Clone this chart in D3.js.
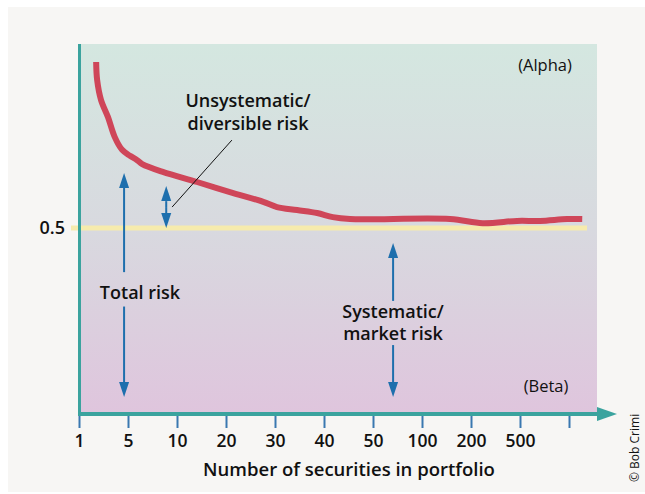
<!DOCTYPE html>
<html><head><meta charset="utf-8">
<script src="https://cdn.jsdelivr.net/npm/d3@7"></script>
<style>
html,body{margin:0;padding:0;background:#fff;}
svg{display:block;}
text{font-family:"Open Sans",sans-serif;fill:#111;}
</style></head>
<body>
<svg id="c" width="645" height="494"></svg>
<script>
// ---- data ----
const tickLabels = ["1","5","10","20","30","40","50","100","200","500",""];
// position along the x axis, in tick-index units (0 = "1", 1 = "5", ...)
const curveX = [0.35,0.37,0.45,0.59,0.73,0.88,1.04,1.18,1.29,1.71,2.41,3.08,3.76,4.04,4.45,4.86,5.18,5.53,7.57,8.24,8.94,9.41,9.96,10.27];
// total risk (relative)
const curveY = [0.944,0.896,0.842,0.797,0.743,0.709,0.693,0.682,0.671,0.650,0.623,0.596,0.570,0.556,0.548,0.540,0.529,0.524,0.524,0.513,0.519,0.519,0.524,0.524];
const systematicLevel = 0.5;
const yTicks = [0.5];

const svg = d3.select("#c");
const W = 645, H = 494;
const plot = {left:78, right:597, top:44, bottom:414};

const x = d3.scaleLinear().domain([0,10]).range([79,569]);
const y = d3.scaleLinear().domain([0,1]).range([415,41]);

// outer panel
svg.append("rect").attr("x",8).attr("y",7).attr("width",W-8).attr("height",485).attr("fill","#f7f6f4");

// gradient background
const defs = svg.append("defs");
const g = defs.append("linearGradient").attr("id","bg").attr("x1",0).attr("y1",0).attr("x2",0).attr("y2",1);
g.append("stop").attr("offset","0%").attr("stop-color","#d4e7e0");
g.append("stop").attr("offset","50%").attr("stop-color","#d8d9df");
g.append("stop").attr("offset","100%").attr("stop-color","#dfc5dd");
svg.append("rect").attr("x",plot.left).attr("y",plot.top)
  .attr("width",plot.right-plot.left).attr("height",plot.bottom-plot.top).attr("fill","url(#bg)");

// systematic level line
svg.append("line").attr("x1",71).attr("x2",587)
  .attr("y1",y(systematicLevel)).attr("y2",y(systematicLevel))
  .attr("stroke","#f6ebad").attr("stroke-width",5);

// y tick label
svg.selectAll("text.yt").data(yTicks).join("text").attr("class","yt")
  .attr("x",65).attr("y",d=>y(d)).attr("dy","0.36em").attr("text-anchor","end")
  .attr("font-size",18).attr("font-weight",600).text(d=>d);

// curve
const pts = curveX.map((d,i)=>[d,curveY[i]]);
svg.append("path").datum(pts)
  .attr("d", d3.line().x(d=>x(d[0])).y(d=>y(d[1])).curve(d3.curveCatmullRom.alpha(0.5)))
  .attr("fill","none").attr("stroke","#cf4659").attr("stroke-width",6);

// x axis
const teal = "#3ba39e";
const blue = "#1e6fad";
const axis = d3.axisBottom(x).tickValues(d3.range(tickLabels.length))
  .tickFormat(i=>tickLabels[i]).tickSize(13).tickPadding(7);
const ax = svg.append("g").attr("transform","translate(0,415)").call(axis);
ax.select(".domain").remove();
ax.selectAll(".tick line").attr("stroke","#3a78b0").attr("stroke-width",2);
ax.selectAll(".tick text").attr("font-family","Open Sans").attr("font-size",17.5)
  .attr("font-weight",600).attr("fill","#111");

svg.append("line").attr("x1",78).attr("x2",600).attr("y1",414).attr("y2",414)
  .attr("stroke",teal).attr("stroke-width",4);
svg.append("path").attr("d","M597,407 L617,414 L597,421 Z").attr("fill",teal);
svg.append("line").attr("x1",79.5).attr("x2",79.5).attr("y1",plot.top).attr("y2",416)
  .attr("stroke",teal).attr("stroke-width",3);

// axis title
svg.append("text").attr("x",349).attr("y",469).attr("dy","0.36em").attr("text-anchor","middle")
  .attr("font-size",18.5).attr("font-weight",600).text("Number of securities in portfolio");

// arrows
function arrow(xv, yFrom, yTo){ // head at yTo
  const X = x(xv), y0 = y(yFrom), y1 = y(yTo);
  const dir = y1 < y0 ? 1 : -1;
  const hl = 15, hw = 5;
  svg.append("line").attr("x1",X).attr("x2",X).attr("y1",y0).attr("y2",y1+dir*hl)
    .attr("stroke",blue).attr("stroke-width",2);
  svg.append("path").attr("d",`M${X},${y1} L${X-hw},${y1+dir*hl} L${X+hw},${y1+dir*hl} Z`).attr("fill",blue);
}
// Total risk
arrow(0.92, 0.382, 0.647);
arrow(0.92, 0.29, 0.048);
// Systematic
arrow(6.41, 0.305, 0.46);
arrow(6.41, 0.187, 0.048);
// Unsystematic double arrow
arrow(1.78, 0.556, 0.612);
arrow(1.78, 0.556, 0.5);

// leader line
svg.append("line").attr("x1",x(1.90)).attr("y1",y(0.556)).attr("x2",x(3.12)).attr("y2",y(0.735))
  .attr("stroke","#111").attr("stroke-width",1);

// labels
function label(tx, ty, lines, size, weight, lh){
  const t = svg.append("text").attr("x",tx).attr("y",ty).attr("text-anchor","middle")
    .attr("font-size",size).attr("font-weight",weight);
  lines.forEach((l,i)=>t.append("tspan").attr("x",tx).attr("y", ty + i*lh).attr("dy","0.36em").text(l));
}
label(248,101,["Unsystematic/","diversible risk"],18,600,23);
label(140,293,["Total risk"],18,600,0);
label(393,312,["Systematic/","market risk"],18,600,22);
label(545,65,["(Alpha)"],16.5,400,0);
label(546,386,["(Beta)"],16.5,400,0);

// credit
svg.append("text").attr("transform","translate(639,482) rotate(-90)")
  .attr("font-size",12).attr("font-weight",400).text("© Bob Crimi");
</script>
</body></html>
